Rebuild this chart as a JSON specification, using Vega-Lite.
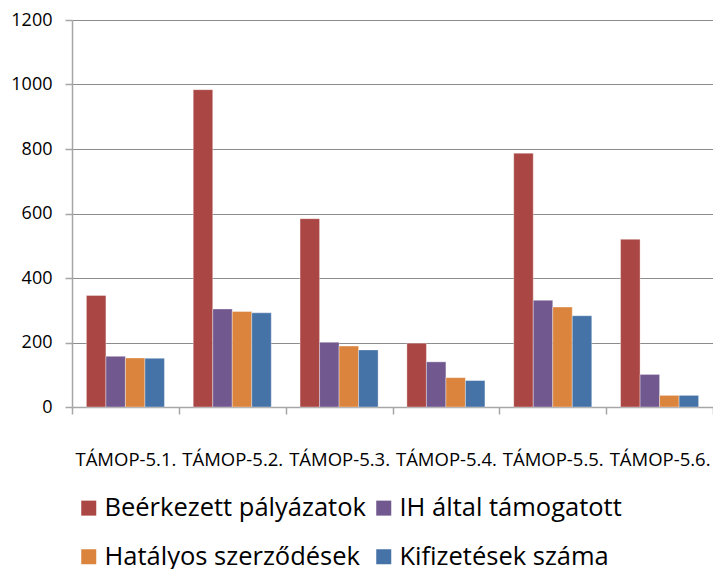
{
  "$schema": "https://vega.github.io/schema/vega-lite/v6.json",
  "width": 641,
  "height": 387,
  "autosize": {"type": "none"},
  "padding": {"left": 72, "top": 20, "right": 0, "bottom": 162},
  "background": "white",
  "config": {
    "view": {"stroke": null},
    "font": "Open Sans"
  },
  "data": {
    "values": [
      {"cat": "TÁMOP-5.1.", "series": "Beérkezett pályázatok", "v": 346},
      {"cat": "TÁMOP-5.1.", "series": "IH által támogatott", "v": 157},
      {"cat": "TÁMOP-5.1.", "series": "Hatályos szerződések", "v": 152},
      {"cat": "TÁMOP-5.1.", "series": "Kifizetések száma", "v": 151},
      {"cat": "TÁMOP-5.2.", "series": "Beérkezett pályázatok", "v": 984},
      {"cat": "TÁMOP-5.2.", "series": "IH által támogatott", "v": 304},
      {"cat": "TÁMOP-5.2.", "series": "Hatályos szerződések", "v": 296},
      {"cat": "TÁMOP-5.2.", "series": "Kifizetések száma", "v": 292},
      {"cat": "TÁMOP-5.3.", "series": "Beérkezett pályázatok", "v": 584},
      {"cat": "TÁMOP-5.3.", "series": "IH által támogatott", "v": 201},
      {"cat": "TÁMOP-5.3.", "series": "Hatályos szerződések", "v": 189},
      {"cat": "TÁMOP-5.3.", "series": "Kifizetések száma", "v": 177},
      {"cat": "TÁMOP-5.4.", "series": "Beérkezett pályázatok", "v": 198},
      {"cat": "TÁMOP-5.4.", "series": "IH által támogatott", "v": 140},
      {"cat": "TÁMOP-5.4.", "series": "Hatályos szerződések", "v": 91},
      {"cat": "TÁMOP-5.4.", "series": "Kifizetések száma", "v": 82},
      {"cat": "TÁMOP-5.5.", "series": "Beérkezett pályázatok", "v": 787},
      {"cat": "TÁMOP-5.5.", "series": "IH által támogatott", "v": 331},
      {"cat": "TÁMOP-5.5.", "series": "Hatályos szerződések", "v": 310},
      {"cat": "TÁMOP-5.5.", "series": "Kifizetések száma", "v": 283},
      {"cat": "TÁMOP-5.6.", "series": "Beérkezett pályázatok", "v": 520},
      {"cat": "TÁMOP-5.6.", "series": "IH által támogatott", "v": 101},
      {"cat": "TÁMOP-5.6.", "series": "Hatályos szerződések", "v": 36},
      {"cat": "TÁMOP-5.6.", "series": "Kifizetések száma", "v": 36}
    ]
  },
  "mark": {"type": "bar", "stroke": "#ffffff", "strokeWidth": 0.6, "strokeOpacity": 0.6},
  "encoding": {
    "x": {
      "field": "cat",
      "type": "nominal",
      "sort": null,
      "scale": {"paddingInner": 0, "paddingOuter": 0},
      "axis": {
        "title": null,
        "labelAngle": 0,
        "labelFontSize": 18.5,
        "labelColor": "#000000",
        "labelBaseline": "middle",
        "labelPadding": 45,
        "tickBand": "extent",
        "tickSize": 7,
        "tickColor": "#a6a6a6",
        "tickWidth": 1.5,
        "domainColor": "#a6a6a6",
        "domainWidth": 1.5,
        "grid": false
      }
    },
    "xOffset": {
      "field": "series",
      "type": "nominal",
      "scale": {"domain": ["Beérkezett pályázatok", "IH által támogatott", "Hatályos szerződések", "Kifizetések száma"], "paddingInner": 0, "paddingOuter": 0.738}
    },
    "y": {
      "field": "v",
      "type": "quantitative",
      "scale": {"domain": [0, 1200], "nice": false},
      "axis": {
        "title": null,
        "values": [0, 200, 400, 600, 800, 1000, 1200],
        "format": "d",
        "labelFontSize": 18,
        "labelColor": "#000000",
        "labelPadding": 13,
        "tickSize": 7,
        "tickColor": "#a6a6a6",
        "tickWidth": 1.5,
        "domainColor": "#a6a6a6",
        "domainWidth": 1.5,
        "grid": true,
        "gridColor": "#8c8c8c",
        "gridWidth": 1.2
      }
    },
    "color": {
      "field": "series",
      "type": "nominal",
      "scale": {
        "domain": ["Beérkezett pályázatok", "IH által támogatott", "Hatályos szerződések", "Kifizetések száma"],
        "range": ["#AA4643", "#71588F", "#DB843D", "#4572A7"]
      },
      "legend": {
        "title": null,
        "orient": "none",
        "legendX": 4,
        "legendY": 475,
        "direction": "horizontal",
        "columns": 2,
        "symbolType": "square",
        "symbolSize": 225,
        "symbolStrokeWidth": 0,
        "labelFontSize": 25.5,
        "labelColor": "#000000",
        "labelOffset": 3,
        "columnPadding": 5,
        "rowPadding": 22,
        "padding": 0,
        "labelLimit": 400
      }
    }
  }
}
